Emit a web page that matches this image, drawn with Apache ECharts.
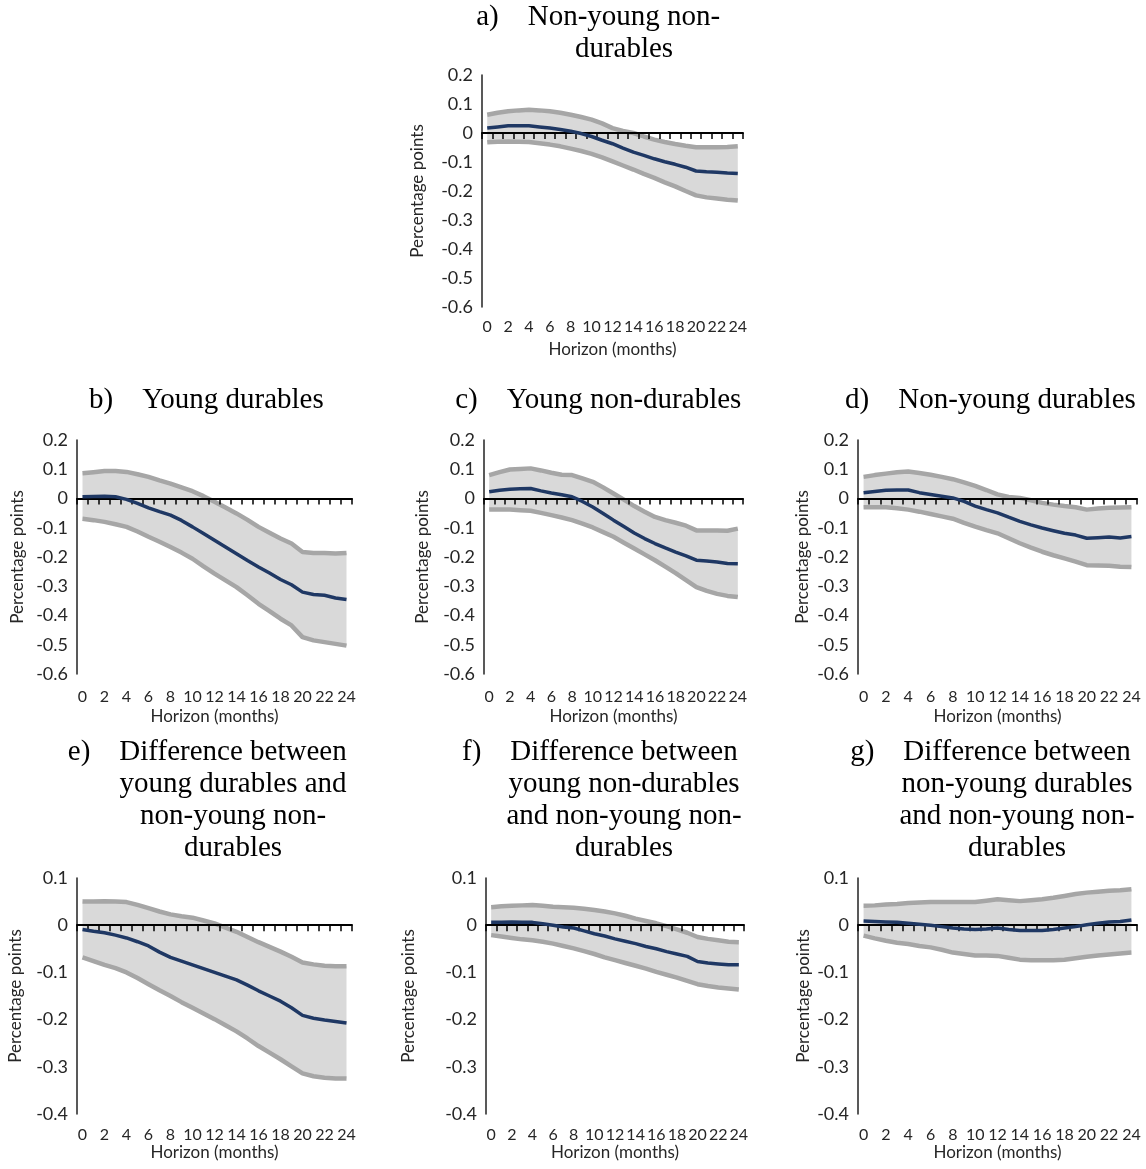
<!DOCTYPE html>
<html lang="en">
<head>
<meta charset="UTF-8">
<title>Impulse responses</title>
<script src="https://cdn.jsdelivr.net/npm/echarts@6/dist/echarts.min.js"></script>
<style>
  body { margin: 0; background: #fff; }
  #main { width: 1146px; height: 1169px; }
</style>
</head>
<body>
<div id="main"></div>
<script>
// horizon categories
var months = ['0','1','2','3','4','5','6','7','8','9','10','11','12','13','14','15','16','17','18','19','20','21','22','23','24'];

// a) Non-young non-durables
var titleA = ['a)', 'Non-young non-', 'durables'];
var aMid = [0.017,0.021,0.025,0.025,0.025,0.021,0.017,0.012,0.006,-0.002,-0.012,-0.025,-0.037,-0.052,-0.066,-0.077,-0.089,-0.099,-0.108,-0.118,-0.131,-0.134,-0.135,-0.138,-0.140];
var aHi = [0.063,0.070,0.075,0.078,0.080,0.078,0.075,0.070,0.063,0.055,0.046,0.033,0.017,0.007,0.000,-0.012,-0.023,-0.031,-0.038,-0.044,-0.049,-0.049,-0.049,-0.048,-0.046];
var aLo = [-0.032,-0.030,-0.029,-0.030,-0.031,-0.035,-0.040,-0.046,-0.054,-0.062,-0.072,-0.084,-0.098,-0.112,-0.126,-0.141,-0.155,-0.170,-0.184,-0.200,-0.215,-0.222,-0.226,-0.230,-0.233];

// b) Young durables
var titleB = ['b)', 'Young durables'];
var bMid = [0.006,0.007,0.008,0.006,-0.003,-0.017,-0.032,-0.045,-0.057,-0.075,-0.097,-0.120,-0.143,-0.166,-0.189,-0.212,-0.234,-0.255,-0.277,-0.295,-0.320,-0.328,-0.331,-0.340,-0.345];
var bHi = [0.086,0.090,0.094,0.094,0.091,0.083,0.074,0.062,0.051,0.038,0.025,0.008,-0.011,-0.031,-0.051,-0.073,-0.097,-0.117,-0.137,-0.154,-0.183,-0.186,-0.186,-0.188,-0.186];
var bLo = [-0.069,-0.074,-0.080,-0.088,-0.097,-0.113,-0.131,-0.148,-0.166,-0.185,-0.206,-0.232,-0.257,-0.280,-0.303,-0.331,-0.360,-0.385,-0.411,-0.434,-0.474,-0.485,-0.491,-0.497,-0.503];

// c) Young non-durables
var titleC = ['c)', 'Young non-durables'];
var cMid = [0.023,0.028,0.032,0.033,0.034,0.026,0.019,0.013,0.006,-0.010,-0.029,-0.051,-0.074,-0.096,-0.118,-0.137,-0.154,-0.169,-0.183,-0.196,-0.211,-0.214,-0.217,-0.222,-0.223];
var cHi = [0.080,0.090,0.099,0.101,0.103,0.096,0.088,0.081,0.080,0.069,0.057,0.038,0.017,-0.004,-0.026,-0.045,-0.063,-0.074,-0.083,-0.093,-0.109,-0.109,-0.109,-0.110,-0.103];
var cLo = [-0.038,-0.038,-0.038,-0.040,-0.042,-0.049,-0.057,-0.065,-0.074,-0.086,-0.099,-0.115,-0.131,-0.151,-0.171,-0.191,-0.211,-0.233,-0.255,-0.279,-0.303,-0.316,-0.326,-0.333,-0.337];

// d) Non-young durables
var titleD = ['d)', 'Non-young durables'];
var dMid = [0.020,0.024,0.028,0.029,0.029,0.020,0.014,0.008,0.002,-0.010,-0.026,-0.038,-0.049,-0.064,-0.078,-0.090,-0.101,-0.110,-0.119,-0.125,-0.136,-0.134,-0.132,-0.135,-0.130];
var dHi = [0.074,0.080,0.085,0.090,0.092,0.087,0.081,0.074,0.066,0.055,0.043,0.029,0.014,0.005,0.002,-0.006,-0.015,-0.021,-0.026,-0.030,-0.038,-0.034,-0.032,-0.031,-0.030];
var dLo = [-0.030,-0.030,-0.030,-0.033,-0.038,-0.045,-0.053,-0.061,-0.069,-0.083,-0.096,-0.108,-0.119,-0.136,-0.153,-0.168,-0.182,-0.194,-0.205,-0.216,-0.228,-0.229,-0.230,-0.233,-0.234];

// e) young durables minus non-young non-durables
var titleE = ['e)', 'Difference between', 'young durables and', 'non-young non-', 'durables'];
var eMid = [-0.009,-0.013,-0.016,-0.021,-0.027,-0.035,-0.044,-0.057,-0.068,-0.076,-0.084,-0.092,-0.100,-0.108,-0.116,-0.127,-0.139,-0.150,-0.161,-0.175,-0.191,-0.197,-0.201,-0.204,-0.207];
var eHi = [0.050,0.050,0.051,0.050,0.049,0.043,0.036,0.029,0.023,0.019,0.016,0.010,0.004,-0.005,-0.014,-0.025,-0.036,-0.046,-0.056,-0.067,-0.079,-0.083,-0.086,-0.087,-0.087];
var eLo = [-0.068,-0.076,-0.084,-0.091,-0.100,-0.112,-0.125,-0.138,-0.150,-0.163,-0.175,-0.187,-0.199,-0.212,-0.225,-0.240,-0.256,-0.270,-0.284,-0.299,-0.314,-0.320,-0.323,-0.325,-0.325];

// f) young non-durables minus non-young non-durables
var titleF = ['f)', 'Difference between', 'young non-durables', 'and non-young non-', 'durables'];
var fMid = [0.006,0.006,0.007,0.006,0.006,0.003,0.000,-0.004,-0.006,-0.012,-0.018,-0.023,-0.029,-0.034,-0.039,-0.045,-0.050,-0.056,-0.061,-0.066,-0.077,-0.080,-0.082,-0.084,-0.084];
var fHi = [0.038,0.040,0.041,0.042,0.043,0.041,0.039,0.038,0.037,0.035,0.032,0.029,0.025,0.020,0.014,0.009,0.004,-0.002,-0.009,-0.016,-0.025,-0.029,-0.032,-0.035,-0.036];
var fLo = [-0.021,-0.024,-0.027,-0.030,-0.032,-0.035,-0.039,-0.044,-0.049,-0.055,-0.061,-0.068,-0.074,-0.080,-0.086,-0.092,-0.099,-0.105,-0.111,-0.118,-0.125,-0.129,-0.132,-0.134,-0.136];

// g) non-young durables minus non-young non-durables
var titleG = ['g)', 'Difference between', 'non-young durables', 'and non-young non-', 'durables'];
var gMid = [0.009,0.008,0.007,0.006,0.004,0.002,0.000,-0.003,-0.006,-0.008,-0.009,-0.008,-0.006,-0.009,-0.011,-0.011,-0.011,-0.009,-0.006,-0.003,0.001,0.004,0.007,0.008,0.011];
var gHi = [0.041,0.042,0.044,0.045,0.047,0.048,0.049,0.049,0.049,0.049,0.049,0.052,0.055,0.053,0.051,0.053,0.055,0.058,0.062,0.066,0.069,0.071,0.073,0.074,0.076];
var gLo = [-0.022,-0.028,-0.033,-0.037,-0.040,-0.044,-0.047,-0.052,-0.058,-0.061,-0.064,-0.064,-0.065,-0.069,-0.073,-0.074,-0.074,-0.074,-0.073,-0.070,-0.067,-0.064,-0.062,-0.060,-0.058];

// layout per panel
var panels = [
  { title: titleA, mid: aMid, hi: aHi, lo: aLo, grid: { left: 482, top: 75, width: 261, height: 232 }, yMin: -0.6, yMax: 0.2, nameGap: 56, titleX: 624, titleY: 17, labelMargin: 12, xNameGap: 34 },
  { title: titleB, mid: bMid, hi: bHi, lo: bLo, grid: { left: 77, top: 440, width: 275, height: 234 }, yMin: -0.6, yMax: 0.2, nameGap: 51, titleX: 233, titleY: 400, labelMargin: 15, xNameGap: 34 },
  { title: titleC, mid: cMid, hi: cHi, lo: cLo, grid: { left: 484, top: 440, width: 259, height: 234 }, yMin: -0.6, yMax: 0.2, nameGap: 53, titleX: 624, titleY: 400, labelMargin: 15, xNameGap: 34 },
  { title: titleD, mid: dMid, hi: dHi, lo: dLo, grid: { left: 858, top: 440, width: 279, height: 234 }, yMin: -0.6, yMax: 0.2, nameGap: 47, titleX: 1017, titleY: 400, labelMargin: 15, xNameGap: 34 },
  { title: titleE, mid: eMid, hi: eHi, lo: eLo, grid: { left: 77, top: 878, width: 275, height: 236 }, yMin: -0.4, yMax: 0.1, nameGap: 53, titleX: 233, titleY: 752, labelMargin: 13, xNameGap: 30 },
  { title: titleF, mid: fMid, hi: fHi, lo: fLo, grid: { left: 486, top: 878, width: 258, height: 236 }, yMin: -0.4, yMax: 0.1, nameGap: 69, titleX: 624, titleY: 752, labelMargin: 13, xNameGap: 30 },
  { title: titleG, mid: gMid, hi: gHi, lo: gLo, grid: { left: 858, top: 878, width: 279, height: 236 }, yMin: -0.4, yMax: 0.1, nameGap: 46, titleX: 1017, titleY: 752, labelMargin: 13, xNameGap: 30 }
];

var sansFont = 'Lato';
var serifFont = '"Liberation Serif", "Times New Roman", serif';
var titleSize = 29;
var lineH = 32;
var textColor = '#262626';

var measureCtx = document.createElement('canvas').getContext('2d');
measureCtx.font = titleSize + 'px ' + serifFont;

var grids = [], xAxes = [], yAxes = [], series = [], texts = [];

panels.forEach(function (p, i) {
  grids.push(p.grid);

  // category axis carrying the labels, at the bottom of the plot
  xAxes.push({
    type: 'category', gridIndex: i, data: months, boundaryGap: true, position: 'bottom',
    axisLine: { show: false, onZero: false },
    axisTick: { show: false },
    axisLabel: { interval: 1, margin: p.labelMargin, fontFamily: sansFont, fontSize: 16, color: textColor },
    name: 'Horizon (months)', nameLocation: 'middle', nameGap: p.xNameGap,
    nameTextStyle: { fontFamily: sansFont, fontSize: 17, color: textColor }
  });
  // the black axis line through zero, ticks pointing down
  xAxes.push({
    type: 'category', gridIndex: i, data: months, boundaryGap: true, position: 'top', z: 3,
    axisLine: { show: true, onZero: true, lineStyle: { color: '#000', width: 2 } },
    axisTick: { show: true, inside: true, interval: 0, length: 6, lineStyle: { color: '#000', width: 1.5 } },
    axisLabel: { show: false }
  });
  yAxes.push({
    type: 'value', gridIndex: i, min: p.yMin, max: p.yMax, interval: 0.1,
    axisLine: { show: true, onZero: false, lineStyle: { color: '#222', width: 1.5 } },
    axisTick: { show: false },
    splitLine: { show: false },
    axisLabel: { fontFamily: sansFont, fontSize: 18, color: textColor, margin: 9 },
    name: 'Percentage points', nameLocation: 'middle', nameGap: p.nameGap,
    nameTextStyle: { fontFamily: sansFont, fontSize: 17, color: textColor }
  });

  var width = p.hi.map(function (v, k) { return +(v - p.lo[k]).toFixed(4); });
  var xi = i * 2;
  series.push({
    type: 'line', xAxisIndex: xi, yAxisIndex: i, data: p.lo, stack: 'band' + i, stackStrategy: 'all',
    symbol: 'none', lineStyle: { opacity: 0 }, silent: true, z: 1
  });
  series.push({
    type: 'line', xAxisIndex: xi, yAxisIndex: i, data: width, stack: 'band' + i, stackStrategy: 'all',
    symbol: 'none', lineStyle: { opacity: 0 }, areaStyle: { color: '#d9d9d9', opacity: 1 }, silent: true, z: 1
  });
  [p.hi, p.lo].forEach(function (d) {
    series.push({
      type: 'line', xAxisIndex: xi, yAxisIndex: i, data: d, symbol: 'none', silent: true, z: 2,
      lineStyle: { color: '#a6a6a6', width: 4.5 }
    });
  });
  series.push({
    type: 'line', xAxisIndex: xi, yAxisIndex: i, data: p.mid, symbol: 'none', silent: true, z: 4,
    lineStyle: { color: '#1f3864', width: 3.5 }
  });

  // title: hanging "x)" label, then centred lines
  var lines = p.title.slice(1);
  lines.forEach(function (t, k) {
    texts.push({
      type: 'text', x: p.titleX, y: p.titleY + k * lineH,
      style: { text: t, font: titleSize + 'px ' + serifFont, fill: '#000', align: 'center', verticalAlign: 'middle', textAlign: 'center', textVerticalAlign: 'middle' }
    });
  });
  var firstW = measureCtx.measureText(lines[0]).width;
  texts.push({
    type: 'text', x: p.titleX - firstW / 2 - 29, y: p.titleY,
    style: { text: p.title[0], font: titleSize + 'px ' + serifFont, fill: '#000', align: 'right', verticalAlign: 'middle', textAlign: 'right', textVerticalAlign: 'middle' }
  });
});

var myChart = echarts.init(document.getElementById('main'));
var option = {
  backgroundColor: '#fff',
  animation: false,
  grid: grids,
  xAxis: xAxes,
  yAxis: yAxes,
  series: series,
  graphic: texts
};
myChart.setOption(option);
</script>
</body>
</html>
